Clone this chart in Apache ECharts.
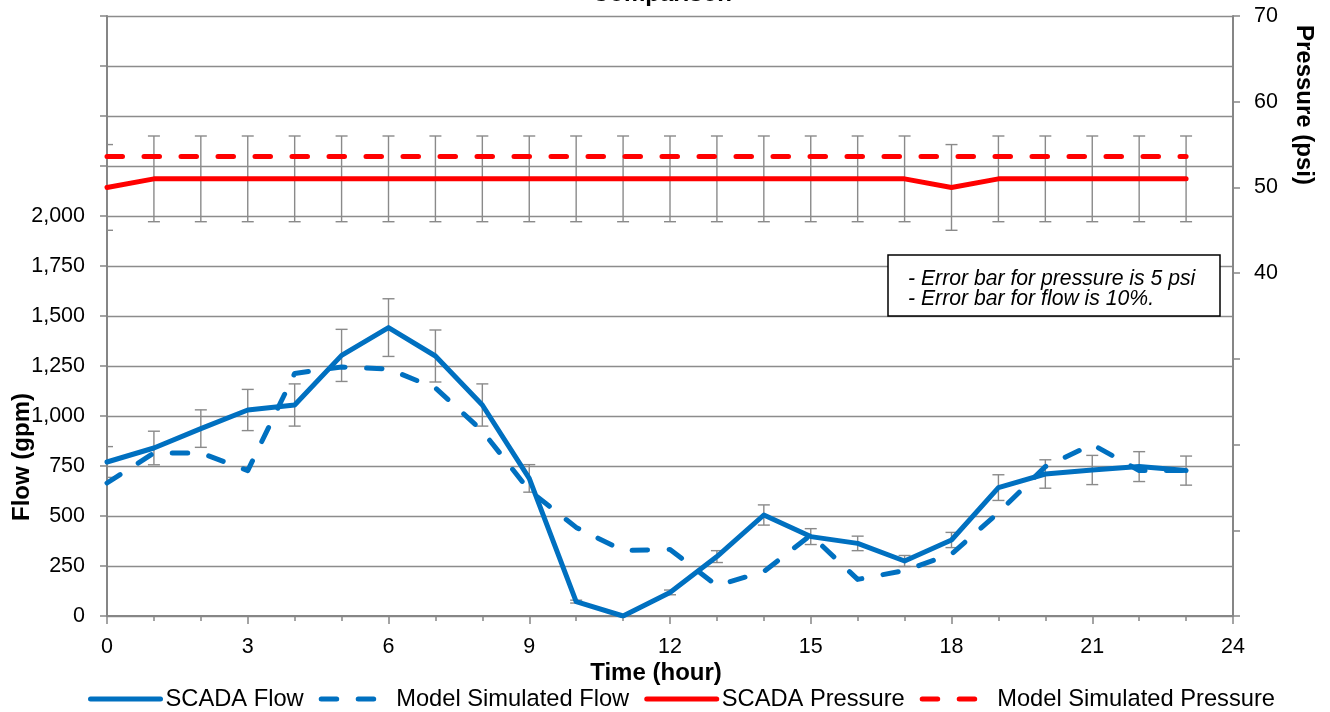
<!DOCTYPE html>
<html>
<head>
<meta charset="utf-8">
<script src="https://cdn.jsdelivr.net/npm/echarts@6/dist/echarts.min.js"></script>
<style>
html,body{margin:0;padding:0;background:#fff;}
#chart{width:1330px;height:712px;}
</style>
</head>
<body>
<div id="chart"></div>
<script>
// ---- data ----
const hours = [0,1,2,3,4,5,6,7,8,9,10,11,12,13,14,15,16,17,18,19,20,21,22,23];
const scadaFlow = [770,840,937,1030,1055,1303,1442,1300,1055,688,72,0,118,297,505,397,363,275,380,642,710,730,747,727];
const modelFlow = [665,815,815,727,1213,1245,1235,1140,925,628,443,327,333,152,222,405,183,227,310,517,747,858,727,727];
const scadaPressure = [50,51,51,51,51,51,51,51,51,51,51,51,51,51,51,51,51,51,50,51,51,51,51,51];
const modelPressure = [53.6,53.6,53.6,53.6,53.6,53.6,53.6,53.6,53.6,53.6,53.6,53.6,53.6,53.6,53.6,53.6,53.6,53.6,53.6,53.6,53.6,53.6,53.6,53.6];
const flowErrPct = 0.10;   // 10 %
const pressureErr = 5;     // psi
const xTicks = [0,3,6,9,12,15,18,21,24];
const flowTickLabels = [0,250,500,750,1000,1250,1500,1750,2000];
const pressureTickLabels = [40,50,60,70];
const seriesNames = ['SCADA Flow','Model Simulated Flow','SCADA Pressure','Model Simulated Pressure'];
const titleText = 'Comparison';
const noteLines = ['- Error bar for pressure is 5 psi','- Error bar for flow is 10%.'];

const FONT = '"Liberation Sans", Arial, Helvetica, sans-serif';
const BLUE = '#0070C0', RED = '#FF0000', GRAY = '#868686', ERR = '#8a8a8a';

const pairs = (vals) => hours.map((h,i)=>[h, vals[i]]);
const flowErrData = hours.map((h,i)=>[h, scadaFlow[i]*(1-flowErrPct), scadaFlow[i]*(1+flowErrPct)]);
const presErrData = hours.map((h,i)=>[h, scadaPressure[i]-pressureErr, scadaPressure[i]+pressureErr]);

function errRender(params, api){
  const x = api.value(0);
  const lo = api.coord([x, api.value(1)]);
  const hi = api.coord([x, api.value(2)]);
  const hw = 6;
  const st = {stroke: ERR, lineWidth: 1.4};
  return {type:'group', children:[
    {type:'line', shape:{x1:lo[0], y1:lo[1], x2:hi[0], y2:hi[1]}, style:st},
    {type:'line', shape:{x1:lo[0]-hw, y1:lo[1], x2:lo[0]+hw, y2:lo[1]}, style:st},
    {type:'line', shape:{x1:hi[0]-hw, y1:hi[1], x2:hi[0]+hw, y2:hi[1]}, style:st}
  ]};
}

const chart = echarts.init(document.getElementById('chart'), null, {renderer:'canvas'});
const dash = [15.5, 21.5];
const LW = 5;

chart.setOption({
  animation:false,
  backgroundColor:'#fff',
  textStyle:{fontFamily:FONT},
  grid:{left:107, right:97, top:16, bottom:96, containLabel:false},
  legend:{
    data: seriesNames,
    left: 88, top: 687, padding:0,
    itemWidth:70, itemHeight:14, itemGap:15,
    itemStyle:{opacity:0},
    lineStyle:{width:LW, cap:'round'},
    textStyle:{fontFamily:FONT, fontSize:23.7, color:'#000'},
    selectedMode:false
  },
  xAxis:{
    type:'value', min:xTicks[0], max:xTicks[xTicks.length-1], interval:3,
    axisLine:{show:true, lineStyle:{color:GRAY, width:2}},
    axisTick:{show:true, length:8, lineStyle:{color:GRAY, width:1.5}},
    minorTick:{show:true, splitNumber:3, length:5, lineStyle:{color:GRAY, width:1.5}},
    splitLine:{show:false},
    axisLabel:{fontFamily:FONT, fontSize:21.5, color:'#000', margin:20,
      formatter:(v)=> xTicks.indexOf(v)>=0 ? String(v) : ''}
  },
  yAxis:[{
    type:'value', min:0, max:3000, interval:250, position:'left',
    axisLine:{show:true, lineStyle:{color:GRAY, width:2}},
    axisTick:{show:true, length:7, lineStyle:{color:GRAY, width:1.5}},
    splitLine:{show:true, lineStyle:{color:'#8c8c8c', width:1.3}},
    axisLabel:{fontFamily:FONT, fontSize:21.5, color:'#000', margin:22,
      formatter:(v)=> flowTickLabels.indexOf(v)>=0 ? v.toLocaleString('en-US') : ''}
  },{
    type:'value', min:0, max:70, interval:10, position:'right',
    axisLine:{show:true, lineStyle:{color:GRAY, width:2}},
    axisTick:{show:true, length:7, lineStyle:{color:GRAY, width:1.5}},
    splitLine:{show:false},
    axisLabel:{fontFamily:FONT, fontSize:21.5, color:'#000', margin:21,
      formatter:(v)=> pressureTickLabels.indexOf(v)>=0 ? String(v) : ''}
  }],
  series:[
    {type:'custom', name:'flowErr', xAxisIndex:0, yAxisIndex:0, data:flowErrData, renderItem:errRender, clip:true, z:1, silent:true},
    {type:'custom', name:'presErr', xAxisIndex:0, yAxisIndex:1, data:presErrData, renderItem:errRender, clip:true, z:1, silent:true},
    {type:'line', name:seriesNames[0], yAxisIndex:0, data:pairs(scadaFlow), symbol:'none', showSymbol:false, z:3,
      itemStyle:{color:BLUE}, lineStyle:{color:BLUE, width:LW, cap:'round', join:'round'}},
    {type:'line', name:seriesNames[1], yAxisIndex:0, data:pairs(modelFlow), symbol:'none', showSymbol:false, z:3,
      itemStyle:{color:BLUE}, lineStyle:{color:BLUE, width:LW, type:dash, cap:'round', join:'round'}},
    {type:'line', name:seriesNames[2], yAxisIndex:1, data:pairs(scadaPressure), symbol:'none', showSymbol:false, z:3,
      itemStyle:{color:RED}, lineStyle:{color:RED, width:LW, cap:'round', join:'round'}},
    {type:'line', name:seriesNames[3], yAxisIndex:1, data:pairs(modelPressure), symbol:'none', showSymbol:false, z:3,
      itemStyle:{color:RED}, lineStyle:{color:RED, width:LW, type:dash, cap:'round', join:'round'}}
  ],
  graphic:[
    {type:'text', z:10, style:{text:titleText, x:662, y:-6, align:'center', verticalAlign:'middle',
      font:'bold 24px '+FONT, fill:'#000'}},
    {type:'text', z:10, style:{text:'Time (hour)', x:656, y:673, align:'center', verticalAlign:'middle',
      font:'bold 24px '+FONT, fill:'#000'}},
    {type:'text', z:10, x:22, y:457, rotation:Math.PI/2, style:{text:'Flow (gpm)', x:0, y:0, align:'center', verticalAlign:'middle',
      font:'bold 24px '+FONT, fill:'#000'}},
    {type:'text', z:10, x:1304, y:105, rotation:-Math.PI/2, style:{text:'Pressure (psi)', x:0, y:0, align:'center', verticalAlign:'middle',
      font:'bold 24px '+FONT, fill:'#000'}},
    {type:'rect', z:10, shape:{x:888, y:255, width:332, height:61}, style:{fill:'#fff', stroke:'#000', lineWidth:1.5}},
    {type:'text', z:11, style:{text:noteLines[0], x:908, y:279, align:'left', verticalAlign:'middle',
      font:'italic 21.2px '+FONT, fill:'#000'}},
    {type:'text', z:11, style:{text:noteLines[1], x:908, y:299.5, align:'left', verticalAlign:'middle',
      font:'italic 21.2px '+FONT, fill:'#000'}}
  ]
});
</script>
</body>
</html>
